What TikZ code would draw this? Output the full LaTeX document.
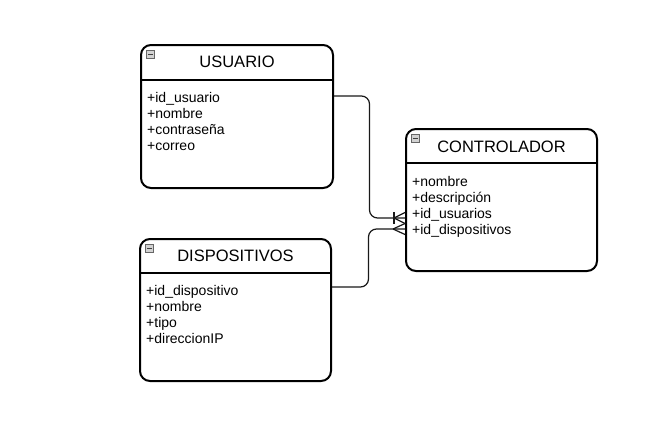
\documentclass[tikz,border=0pt]{standalone}
\usepackage{fontspec}
\setmainfont{Liberation Sans}
\usetikzlibrary{calc}
\begin{document}
\begin{tikzpicture}[x=1pt,y=-1pt,
  entity/.style={draw=black,line width=2pt,rounded corners=10pt,anchor=north west,inner sep=0pt},
  hdr/.style={line width=2pt},
  ttl/.style={font=\fontsize{16.5}{19}\selectfont,text=black,inner sep=0pt},
  attr/.style={font=\fontsize{14}{16}\selectfont,text=black,inner sep=0pt,anchor=base west},
  icon/.style={draw=gray!80!black,fill=gray!35,line width=0.6pt,minimum size=8.5pt,inner sep=0pt,
    path picture={\draw[line width=1.3pt,black!75] ([xshift=1.5pt]path picture bounding box.west) -- ([xshift=-1.5pt]path picture bounding box.east);}},
  conn/.style={line width=1.2pt,draw=black!90},
]
\useasboundingbox (0,0) rectangle (669,434);
\fill[white] (0,0) rectangle (669,434);

% USUARIO
\node[entity,minimum width=192pt,minimum height=143pt] (u) at (140,44) {};
\draw[hdr] ($(u.north west)+(0,36)$) -- ($(u.north east)+(0,36)$);
\node[icon] (ui) at ($(u.north west)+(10.5,10.5)$) {};
\node[ttl] (ut) at ($(u.north)+(0,18)$) {USUARIO};
\node[attr] (u1) at (147,102) {+id\_usuario};
\node[attr] (u2) at (147,118.3) {+nombre};
\node[attr] (u3) at (147,134.6) {+contraseña};
\node[attr] (u4) at (147,150.9) {+correo};

% CONTROLADOR
\node[entity,minimum width=191pt,minimum height=142pt] (c) at (405,128) {};
\draw[hdr] ($(c.north west)+(0,35)$) -- ($(c.north east)+(0,35)$);
\node[icon] (ci) at ($(c.north west)+(10.5,10.5)$) {};
\node[ttl] (ct) at ($(c.north)+(0,19)$) {CONTROLADOR};
\node[attr] (c1) at (412,186) {+nombre};
\node[attr] (c2) at (412,202.3) {+descripción};
\node[attr] (c3) at (412,218.6) {+id\_usuarios};
\node[attr] (c4) at (412,234.9) {+id\_dispositivos};

% DISPOSITIVOS
\node[entity,minimum width=191pt,minimum height=142pt] (d) at (139,238) {};
\draw[hdr] ($(d.north west)+(0,35)$) -- ($(d.north east)+(0,35)$);
\node[icon] (di) at ($(d.north west)+(10.5,10.5)$) {};
\node[ttl] (dt) at ($(d.north)+(0,18)$) {DISPOSITIVOS};
\node[attr] (d1) at (146,295) {+id\_dispositivo};
\node[attr] (d2) at (146,311.3) {+nombre};
\node[attr] (d3) at (146,327.6) {+tipo};
\node[attr] (d4) at (146,343.9) {+direccionIP};

% connectors
\coordinate (ua) at ($(u.north east)+(0,52)$);
\coordinate (ca) at ($(c.north west)+(0,90)$);
\coordinate (da) at ($(d.north east)+(0,49)$);
\coordinate (cb) at ($(c.north west)+(0,101)$);
\draw[conn,rounded corners=8pt] (ua) -| ($(ua)!0.5!(ca)$) |- (ca);
\draw[conn,rounded corners=8pt] (da) -| ($(da)!0.5!(cb)$) |- (cb);
% one-or-many at (ca)
\draw[conn] ($(ca)+(-11,0)$) -- ($(ca)+(0,-5.5)$);
\draw[conn] ($(ca)+(-11,0)$) -- ($(ca)+(0,5.5)$);
\draw[conn] ($(ca)+(-11,-6)$) -- ($(ca)+(-11,6)$);
% many at (cb)
\draw[conn] ($(cb)+(-12,0)$) -- ($(cb)+(0,-5.5)$);
\draw[conn] ($(cb)+(-12,0)$) -- ($(cb)+(0,5.5)$);
\end{tikzpicture}
\end{document}
